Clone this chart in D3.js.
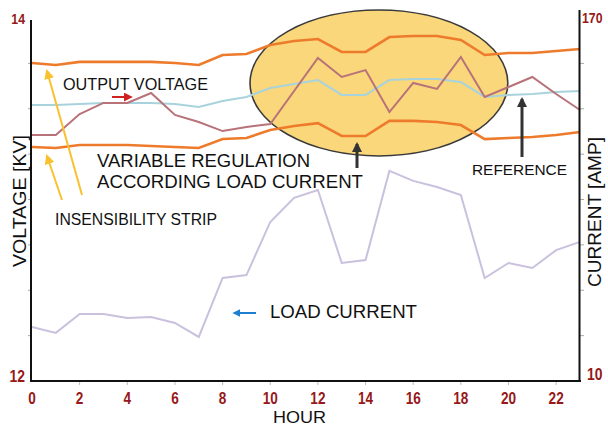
<!DOCTYPE html>
<html><head><meta charset="utf-8">
<script src="https://cdn.jsdelivr.net/npm/d3@7"></script>
<style>body{margin:0;background:#fff}svg{display:block}text{font-family:"Liberation Sans",Arial,sans-serif}</style>
</head><body>
<script>
const hours = [0,1,2,3,4,5,6,7,8,9,10,11,12,13,14,15,16,17,18,19,20,21,22,23];
const upperLimit = [13.752,13.741,13.758,13.758,13.758,13.758,13.752,13.741,13.796,13.802,13.851,13.873,13.884,13.813,13.813,13.895,13.901,13.901,13.879,13.796,13.807,13.807,13.818,13.829];
const lowerLimit = [13.289,13.284,13.300,13.300,13.300,13.295,13.289,13.284,13.333,13.339,13.383,13.405,13.421,13.350,13.350,13.433,13.433,13.427,13.410,13.333,13.339,13.344,13.355,13.372];
const reference = [13.521,13.521,13.526,13.532,13.532,13.532,13.526,13.510,13.543,13.565,13.614,13.636,13.658,13.576,13.576,13.658,13.664,13.664,13.647,13.565,13.576,13.581,13.592,13.598];
const outputVoltage = [13.355,13.355,13.471,13.532,13.532,13.587,13.466,13.427,13.377,13.399,13.416,13.598,13.780,13.675,13.713,13.482,13.642,13.609,13.785,13.565,13.620,13.675,13.581,13.493];
const loadCurrent = [33.8,31.2,39.5,39.5,37.8,38.2,35.6,29.4,55.4,56.7,80.1,90.7,94.2,62.0,63.3,102.6,98.2,95.5,92.0,55.4,62.0,59.8,67.7,71.3];
const xTickLabels = [0,2,4,6,8,10,12,14,16,18,20,22];
const voltageTicks = [12,14];
const currentTicks = [10,170];

const W=608,H=427;
const svg=d3.select("body").append("svg").attr("width",W).attr("height",H);
const defs=svg.append("defs");
function marker(id,color,size){
  defs.append("marker").attr("id",id).attr("viewBox","0 0 10 10").attr("refX",8).attr("refY",5)
   .attr("markerWidth",size).attr("markerHeight",size).attr("orient","auto").attr("markerUnits","userSpaceOnUse")
   .append("path").attr("d","M0,0L10,5L0,10z").attr("fill",color);
}
marker("mRed","#d02020",9);
marker("mBlue","#1e7fd0",8);
marker("mDark","#333",10);
marker("mYel","#f9c12e",10);

const x=d3.scaleLinear().domain([0,23]).range([32,580]);
const yV=d3.scaleLinear().domain([12,14]).range([381,18]);
const yA=d3.scaleLinear().domain([10,170]).range([381,18]);

// ellipse (annotation, in data units)
const ell={h:14.56,v:13.642,rh:5.41,rv:0.402};
svg.append("ellipse").attr("cx",x(ell.h)).attr("cy",yV(ell.v))
  .attr("rx",x(ell.rh)-x(0)).attr("ry",yV(12)-yV(12+ell.rv))
  .attr("fill","#f9d77a").attr("stroke","#3a3a3a").attr("stroke-width",1.6);

// minor ticks
const minorV=[12.25,12.5,12.75,13,13.25,13.5,13.75];
svg.selectAll(".mtl").data(minorV).enter().append("line")
 .attr("x1",28).attr("x2",31).attr("y1",d=>yV(d)).attr("y2",d=>yV(d)).attr("stroke","#aaa");
const minorA=[30,50,70,90,110,130,150];
svg.selectAll(".mtr").data(minorA).enter().append("line")
 .attr("x1",580).attr("x2",584).attr("y1",d=>yA(d)).attr("y2",d=>yA(d)).attr("stroke","#aaa");
svg.selectAll(".mtx").data(xTickLabels.slice(1)).enter().append("line")
 .attr("x1",d=>x(d)).attr("x2",d=>x(d)).attr("y1",382).attr("y2",385).attr("stroke","#bbb");

function line(vals,scale){
  return d3.line().x((d,i)=>x(hours[i])).y(d=>scale(d))(vals);
}
svg.append("path").attr("d",line(loadCurrent,yA)).attr("fill","none").attr("stroke","#c9c1dd").attr("stroke-width",2);
svg.append("path").attr("d",line(reference,yV)).attr("fill","none").attr("stroke","#a9d3dc").attr("stroke-width",2);
svg.append("path").attr("d",line(upperLimit,yV)).attr("fill","none").attr("stroke","#ee7b2c").attr("stroke-width",2.6);
svg.append("path").attr("d",line(lowerLimit,yV)).attr("fill","none").attr("stroke","#ee7b2c").attr("stroke-width",2.6);
svg.append("path").attr("d",line(outputVoltage,yV)).attr("fill","none").attr("stroke","#b87279").attr("stroke-width",2);

// axes lines
svg.append("line").attr("x1",31).attr("x2",31).attr("y1",20).attr("y2",382).attr("stroke","#111").attr("stroke-width",2);
svg.append("line").attr("x1",579.5).attr("x2",579.5).attr("y1",10).attr("y2",382).attr("stroke","#111").attr("stroke-width",2);
svg.append("line").attr("x1",30).attr("x2",581).attr("y1",381).attr("y2",381).attr("stroke","#111").attr("stroke-width",2);

const red="#961818";
svg.selectAll(".xt").data(xTickLabels).enter().append("text")
 .attr("transform",d=>`translate(${x(d)},404) scale(0.85,1)`).attr("text-anchor","middle")
 .attr("font-size",16).attr("font-weight","bold").attr("fill",red).text(d=>d);
svg.append("text").attr("transform",`translate(25,${yV(14)+6}) scale(0.82,1)`).attr("text-anchor","end")
 .attr("font-size",15).attr("font-weight","bold").attr("fill",red).text(voltageTicks[1]);
svg.append("text").attr("transform",`translate(25,${yV(12)+1}) scale(0.82,1)`).attr("text-anchor","end")
 .attr("font-size",17).attr("font-weight","bold").attr("fill",red).text(voltageTicks[0]);
svg.append("text").attr("transform",`translate(582,${yA(170)+5}) scale(0.82,1)`).attr("text-anchor","start")
 .attr("font-size",15).attr("font-weight","bold").attr("fill",red).text(currentTicks[1]);
svg.append("text").attr("transform",`translate(587,${yA(10)-1}) scale(0.82,1)`).attr("text-anchor","start")
 .attr("font-size",17).attr("font-weight","bold").attr("fill",red).text(currentTicks[0]);

function label(t,xx,yy,fs,len){
  svg.append("text").attr("x",xx).attr("y",yy).attr("font-size",fs).attr("fill","#111")
   .attr("textLength",len).attr("lengthAdjust","spacingAndGlyphs").text(t);
}
label("OUTPUT VOLTAGE",63,90,16,145);
label("VARIABLE REGULATION",97,167,18,213);
label("ACCORDING LOAD CURRENT",97,188,18,266);
label("REFERENCE",472,175,15.5,95);
label("INSENSIBILITY STRIP",55,225,16,162);
label("LOAD CURRENT",270,318,18,147);
label("HOUR",273,423,16.5,53);
svg.append("text").attr("transform","translate(26,201) rotate(-90)").attr("text-anchor","middle")
 .attr("font-size",19).attr("fill","#111").attr("textLength",132).attr("lengthAdjust","spacingAndGlyphs").text("VOLTAGE [KV]");
svg.append("text").attr("transform","translate(601,212) rotate(-90)").attr("text-anchor","middle")
 .attr("font-size",18).attr("fill","#111").attr("textLength",150).attr("lengthAdjust","spacingAndGlyphs").text("CURRENT [AMP]");

function arrow(x1,y1,x2,y2,c,w,m){
  svg.append("line").attr("x1",x1).attr("y1",y1).attr("x2",x2).attr("y2",y2)
   .attr("stroke",c).attr("stroke-width",w).attr("marker-end",`url(#${m})`);
}
arrow(112,97,131,97,"#d02020",2,"mRed");
arrow(256,313,234,313,"#1e7fd0",2,"mBlue");
arrow(357,168,357,144,"#333",3,"mDark");
arrow(522,157,522,99,"#333",3,"mDark");
arrow(82,195,47,71,"#f9c12e",2,"mYel");
arrow(62,200,47,156,"#f9c12e",2,"mYel");
</script>
</body></html>
